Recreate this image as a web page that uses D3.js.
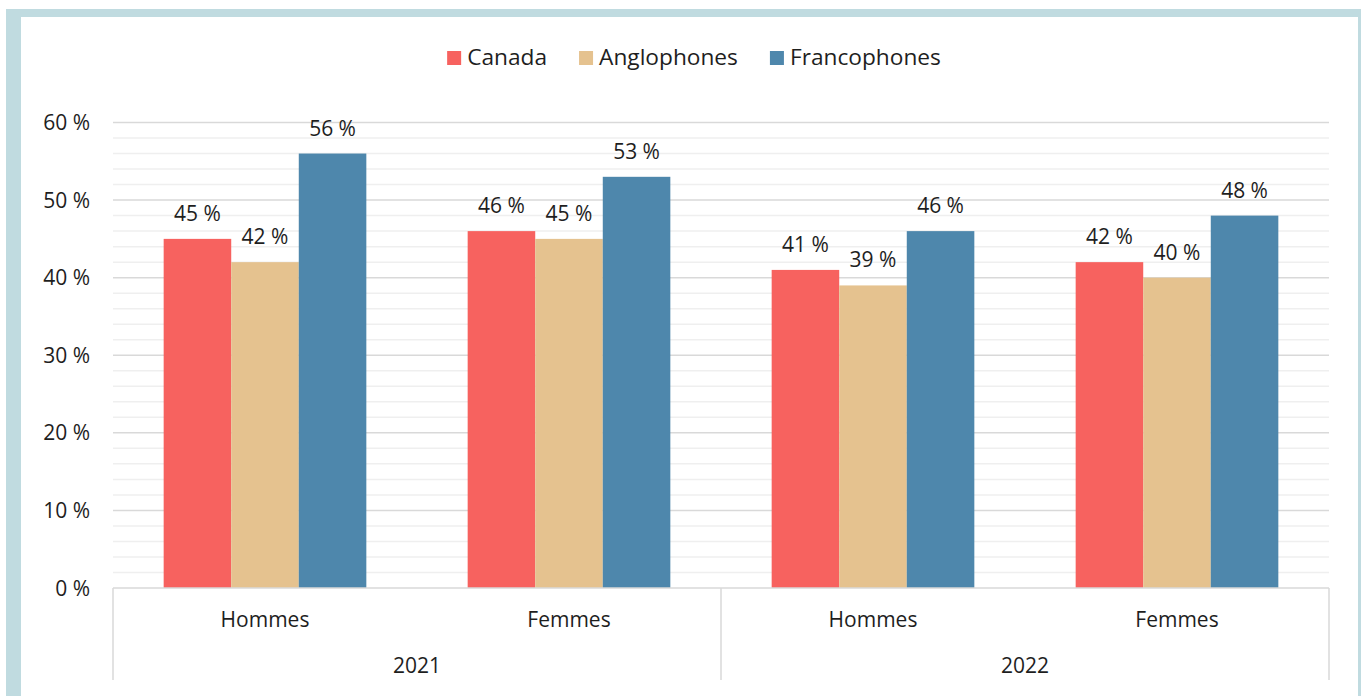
<!DOCTYPE html>
<html>
<head>
<meta charset="utf-8">
<script src="https://cdn.jsdelivr.net/npm/d3@7"></script>
<style>
  html, body { margin: 0; padding: 0; background: #fff; }
  svg text { font-family: "Open Sans", "Noto Sans", sans-serif; fill: #1e1e1e; }
</style>
</head>
<body>
<div id="chart"></div>
<script>
// data
var years = ["2021", "2022"];
var sexes = ["Hommes", "Femmes"];
var seriesNames = ["Canada", "Anglophones", "Francophones"];
var canada = [45, 46, 41, 42];
var anglophones = [42, 45, 39, 40];
var francophones = [56, 53, 46, 48];
var yTicks = [0, 10, 20, 30, 40, 50, 60];

var colors = ["#f7625f", "#e5c28f", "#4e87ac"];
var width = 1361, height = 696;
var margin = { left: 113, right: 1329, top: 122.5, bottom: 588 };

// one row per category on the axis
var cats = [];
years.forEach(function(y) {
  sexes.forEach(function(s) { cats.push({ year: y, sex: s, key: y + "|" + s }); });
});
var values = [canada, anglophones, francophones];

var svg = d3.select("#chart").append("svg")
  .attr("width", width).attr("height", height);

// frame
svg.append("rect").attr("x", 6).attr("y", 9).attr("width", width - 6).attr("height", height)
  .attr("fill", "#c0dbe0");
svg.append("rect").attr("x", 21).attr("y", 17).attr("width", 1337).attr("height", height)
  .attr("fill", "#fff");

var x = d3.scaleBand().domain(cats.map(function(d) { return d.key; }))
  .range([margin.left, margin.right]).paddingInner(0).paddingOuter(0);
var xs = d3.scaleBand().domain(seriesNames)
  .range([0, x.bandwidth()]).paddingInner(0).paddingOuter(0.75);
var y = d3.scaleLinear().domain([0, 60]).range([margin.bottom, margin.top]);

// grid lines
var minor = d3.range(0, 61, 2).filter(function(v) { return v % 10 !== 0; });
svg.append("g").selectAll("line").data(minor).enter().append("line")
  .attr("x1", margin.left).attr("x2", margin.right)
  .attr("y1", function(d) { return y(d); }).attr("y2", function(d) { return y(d); })
  .attr("stroke", "#efefef").attr("stroke-width", 1.5);
svg.append("g").selectAll("line").data(yTicks.slice(1)).enter().append("line")
  .attr("x1", margin.left).attr("x2", margin.right)
  .attr("y1", function(d) { return y(d); }).attr("y2", function(d) { return y(d); })
  .attr("stroke", "#d9d9d9").attr("stroke-width", 1.5);

// y tick labels
svg.append("g").selectAll("text").data(yTicks).enter().append("text")
  .attr("x", 90).attr("y", function(d) { return y(d); }).attr("dy", "0.36em")
  .attr("text-anchor", "end").attr("font-size", 21)
  .text(function(d) { return d + " %"; });

// bars
seriesNames.forEach(function(name, si) {
  var g = svg.append("g");
  g.selectAll("rect").data(cats).enter().append("rect")
    .attr("x", function(d) { return x(d.key) + xs(name); })
    .attr("width", xs.bandwidth())
    .attr("y", function(d, i) { return y(values[si][i]); })
    .attr("height", function(d, i) { return y(0) - y(values[si][i]); })
    .attr("fill", colors[si]);
  g.selectAll("text").data(cats).enter().append("text")
    .attr("x", function(d) { return x(d.key) + xs(name) + xs.bandwidth() / 2; })
    .attr("y", function(d, i) { return y(values[si][i]) - 18; })
    .attr("text-anchor", "middle").attr("font-size", 21)
    .text(function(d, i) { return values[si][i] + " %"; });
});

// category axis (two levels)
var axisBottom = 680;
var ax = svg.append("g");
ax.append("line").attr("x1", margin.left).attr("x2", margin.right)
  .attr("y1", y(0)).attr("y2", y(0)).attr("stroke", "#d9d9d9").attr("stroke-width", 1.5);
var dividers = [margin.left].concat(years.map(function(yr) {
  var last = cats.filter(function(c) { return c.year === yr; }).pop();
  return x(last.key) + x.bandwidth();
}));
ax.selectAll("line.div").data(dividers).enter().append("line").attr("class", "div")
  .attr("x1", function(d) { return d; }).attr("x2", function(d) { return d; })
  .attr("y1", y(0)).attr("y2", axisBottom)
  .attr("stroke", "#d9d9d9").attr("stroke-width", 1.5);
ax.selectAll("text.sex").data(cats).enter().append("text").attr("class", "sex")
  .attr("x", function(d) { return x(d.key) + x.bandwidth() / 2; })
  .attr("y", 627).attr("text-anchor", "middle").attr("font-size", 21)
  .text(function(d) { return d.sex; });
ax.selectAll("text.year").data(years).enter().append("text").attr("class", "year")
  .attr("x", function(yr) {
    var c = cats.filter(function(d) { return d.year === yr; });
    return (x(c[0].key) + x(c[c.length - 1].key) + x.bandwidth()) / 2;
  })
  .attr("y", 673).attr("text-anchor", "middle").attr("font-size", 21)
  .text(function(d) { return d; });

// legend, centred over the plot
var legend = svg.append("g");
var items = legend.selectAll("g").data(seriesNames).enter().append("g");
items.append("rect").attr("width", 14).attr("height", 14).attr("y", 51)
  .attr("fill", function(d, i) { return colors[i]; });
items.append("text").attr("x", 20).attr("y", 65).attr("font-size", 22.7)
  .text(function(d) { return d; });
var offset = 0;
items.each(function() {
  var w = 20 + d3.select(this).select("text").node().getComputedTextLength();
  d3.select(this).attr("transform", "translate(" + offset + ",0)");
  offset += w + 32;
});
var total = offset - 32;
legend.attr("transform", "translate(" + (694 - total / 2) + ",0)");
</script>
</body>
</html>
